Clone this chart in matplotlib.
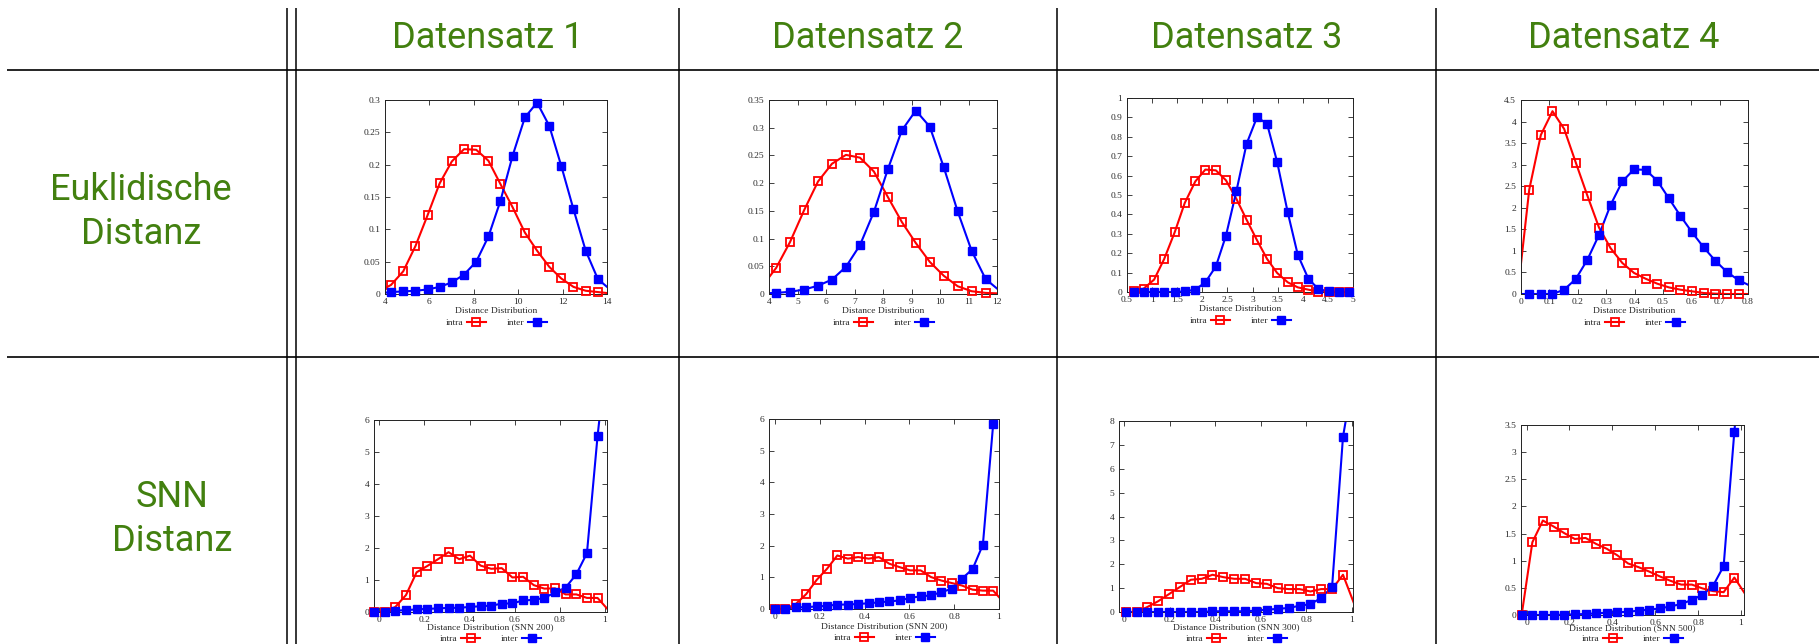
import numpy as np
import matplotlib
matplotlib.use("Agg")
import matplotlib.pyplot as plt
from matplotlib import font_manager
from matplotlib.lines import Line2D
from matplotlib.ticker import MultipleLocator, FormatStrFormatter

W, H = 1819, 644

installed = {f.name for f in font_manager.fontManager.ttflist}
HEAD_FONT = "Roboto" if "Roboto" in installed else "DejaVu Sans"
PLOT_FONT = "Liberation Serif" if "Liberation Serif" in installed else "DejaVu Serif"
GREEN = "#42800f"
RED, BLUE = "#ff0000", "#0000ff"
INK = "#2a2a2a"

col_titles = ["Datensatz 1", "Datensatz 2", "Datensatz 3", "Datensatz 4"]
row_titles = [["Euklidische", "Distanz"], ["SNN", "Distanz"]]
x_labels = ["Distance Distribution"] * 4 + [
    "Distance Distribution (SNN 200)", "Distance Distribution (SNN 200)",
    "Distance Distribution (SNN 300)", "Distance Distribution (SNN 500)"]

# --- Euklidische Distanz -------------------------------------------------
d1_eu_x = [3.72, 4.27, 4.82, 5.37, 5.92, 6.46, 7.01, 7.56, 8.11, 8.66,
           9.20, 9.75, 10.30, 10.85, 11.40, 11.94, 12.49, 13.04, 13.59, 14.14]
d1_eu_intra = [0.004, 0.014, 0.035, 0.074, 0.122, 0.171, 0.205, 0.224, 0.223, 0.206,
               0.170, 0.134, 0.095, 0.067, 0.042, 0.024, 0.011, 0.005, 0.003, 0.001]
d1_eu_inter = [0.001, 0.003, 0.004, 0.005, 0.007, 0.011, 0.018, 0.030, 0.050, 0.089,
               0.144, 0.214, 0.273, 0.296, 0.260, 0.198, 0.131, 0.067, 0.023, 0.007]

d2_eu_x = [3.76, 4.25, 4.74, 5.23, 5.72, 6.21, 6.70, 7.19, 7.68, 8.17,
           8.66, 9.15, 9.64, 10.13, 10.62, 11.11, 11.60, 12.09]
d2_eu_intra = [0.014, 0.047, 0.094, 0.151, 0.203, 0.235, 0.251, 0.246, 0.221, 0.175,
               0.130, 0.092, 0.058, 0.033, 0.014, 0.005, 0.002, 0.001]
d2_eu_inter = [0.001, 0.002, 0.004, 0.008, 0.015, 0.026, 0.049, 0.088, 0.148, 0.225,
               0.295, 0.331, 0.302, 0.229, 0.149, 0.078, 0.027, 0.006]

d3_eu_x = [0.63, 0.83, 1.04, 1.24, 1.45, 1.65, 1.86, 2.06, 2.27, 2.47, 2.68,
           2.88, 3.09, 3.29, 3.49, 3.70, 3.90, 4.11, 4.31, 4.52, 4.72, 4.93]
d3_eu_intra = [0.007, 0.017, 0.064, 0.170, 0.308, 0.459, 0.570, 0.631, 0.627, 0.576, 0.479,
               0.373, 0.266, 0.170, 0.098, 0.050, 0.024, 0.012, 0.002, 0.0, 0.0, 0.0]
d3_eu_inter = [0.0, 0.0, 0.0, 0.0, 0.0, 0.003, 0.012, 0.050, 0.132, 0.290, 0.522,
               0.763, 0.902, 0.866, 0.670, 0.411, 0.192, 0.069, 0.015, 0.003, 0.0, 0.0]

d4_eu_x = [-0.012, 0.029, 0.070, 0.111, 0.152, 0.193, 0.234, 0.275, 0.316, 0.357, 0.398,
           0.439, 0.480, 0.521, 0.562, 0.603, 0.644, 0.685, 0.726, 0.767, 0.808]
d4_eu_intra = [0.0, 2.42, 3.69, 4.24, 3.83, 3.05, 2.28, 1.54, 1.06, 0.72, 0.49,
               0.355, 0.24, 0.154, 0.10, 0.062, 0.023, 0.008, 0.0, 0.0, 0.0]
d4_eu_inter = [0.0, 0.0, 0.0, 0.0, 0.10, 0.347, 0.795, 1.373, 2.07, 2.61, 2.89,
               2.88, 2.63, 2.22, 1.81, 1.43, 1.08, 0.77, 0.51, 0.32, 0.19]

# --- SNN Distanz ---------------------------------------------------------
d1_snn_x = [-0.024, 0.024, 0.071, 0.118, 0.165, 0.213, 0.260, 0.307, 0.354, 0.402, 0.449, 0.496,
            0.543, 0.590, 0.638, 0.685, 0.732, 0.779, 0.826, 0.874, 0.921, 0.968, 1.015]
d1_snn_intra = [0.0, 0.0, 0.16, 0.53, 1.24, 1.44, 1.65, 1.87, 1.65, 1.76, 1.45, 1.35,
                1.37, 1.08, 1.10, 0.84, 0.73, 0.74, 0.55, 0.55, 0.44, 0.44, 0.07]
d1_snn_inter = [0.0, 0.0, 0.04, 0.06, 0.08, 0.10, 0.11, 0.13, 0.13, 0.16, 0.18, 0.20,
                0.26, 0.27, 0.36, 0.38, 0.44, 0.61, 0.76, 1.18, 1.84, 5.49, 8.5]

d2_snn_x = [0.000, 0.046, 0.093, 0.139, 0.186, 0.232, 0.278, 0.325, 0.371, 0.418, 0.464, 0.510,
            0.557, 0.603, 0.650, 0.696, 0.742, 0.789, 0.835, 0.882, 0.928, 0.974, 1.021]
d2_snn_intra = [0.0, 0.0, 0.16, 0.47, 0.92, 1.27, 1.69, 1.59, 1.64, 1.59, 1.64, 1.43,
                1.32, 1.22, 1.22, 1.01, 0.90, 0.82, 0.74, 0.61, 0.58, 0.58, 0.21]
d2_snn_inter = [0.0, 0.0, 0.05, 0.06, 0.08, 0.10, 0.14, 0.14, 0.16, 0.18, 0.21, 0.24,
                0.27, 0.35, 0.40, 0.43, 0.53, 0.64, 0.96, 1.26, 2.03, 5.84, 9.0]

d3_snn_x = [0.005, 0.053, 0.101, 0.148, 0.196, 0.244, 0.292, 0.340, 0.387, 0.435, 0.483,
            0.531, 0.579, 0.626, 0.674, 0.722, 0.770, 0.818, 0.865, 0.913, 0.961, 1.009]
d3_snn_intra = [0.0, 0.0, 0.21, 0.45, 0.75, 1.05, 1.35, 1.39, 1.56, 1.46, 1.39,
                1.39, 1.21, 1.18, 1.00, 0.96, 0.96, 0.86, 0.96, 0.96, 1.56, 0.37]
d3_snn_inter = [0.0, 0.0, 0.0, 0.0, 0.0, 0.0, 0.0, 0.0, 0.03, 0.03, 0.03,
                0.03, 0.06, 0.10, 0.13, 0.17, 0.26, 0.33, 0.59, 1.05, 7.34, 10.0]

d4_snn_x = [-0.023, 0.027, 0.076, 0.126, 0.175, 0.225, 0.275, 0.324, 0.374, 0.423, 0.473,
            0.523, 0.572, 0.622, 0.671, 0.721, 0.771, 0.820, 0.870, 0.919, 0.969, 1.019]
d4_snn_intra = [0.0, 1.34, 1.74, 1.63, 1.51, 1.40, 1.42, 1.31, 1.22, 1.10, 0.95,
                0.88, 0.80, 0.71, 0.63, 0.56, 0.56, 0.49, 0.44, 0.42, 0.69, 0.39]
d4_snn_inter = [0.0, 0.0, 0.0, 0.0, 0.006, 0.012, 0.018, 0.030, 0.043, 0.050, 0.060,
                0.080, 0.10, 0.12, 0.16, 0.20, 0.28, 0.37, 0.54, 0.90, 3.38, 5.5]

series = [
    (d1_eu_x, d1_eu_intra, d1_eu_inter), (d2_eu_x, d2_eu_intra, d2_eu_inter),
    (d3_eu_x, d3_eu_intra, d3_eu_inter), (d4_eu_x, d4_eu_intra, d4_eu_inter),
    (d1_snn_x, d1_snn_intra, d1_snn_inter), (d2_snn_x, d2_snn_intra, d2_snn_inter),
    (d3_snn_x, d3_snn_intra, d3_snn_inter), (d4_snn_x, d4_snn_intra, d4_snn_inter),
]

x_limits = [(4, 14), (4, 12), (0.5, 5), (0, 0.8),
            (-0.024, 1.01), (-0.027, 1.0), (-0.024, 1.005), (-0.026, 1.014)]
y_limits = [(0, 0.3), (0, 0.35), (0, 1), (0, 4.5), (0, 6), (0, 6), (0, 8), (0, 3.5)]
x_steps = [2, 1, 0.5, 0.1, 0.2, 0.2, 0.2, 0.2]
y_steps = [0.05, 0.05, 0.1, 0.5, 1, 1, 1, 0.5]

# axes frames in pixels: left, top, right, bottom
boxes = [(385, 100, 607, 294), (769, 100, 997, 294), (1127, 98, 1353, 292), (1521, 100, 1748, 294),
         (374, 420, 607, 612), (769, 419, 999, 609), (1119, 421, 1353, 612), (1521, 425, 1744, 615)]

fig = plt.figure(figsize=(W / 100, H / 100), dpi=100)

# table grid and headings
bg = fig.add_axes([0, 0, 1, 1], zorder=-1)
bg.set_xlim(0, W)
bg.set_ylim(H, 0)
bg.axis("off")
for y in (69.5, 357):
    bg.plot([7, W], [y, y], color="black", lw=1.2, solid_capstyle="butt")
for x in (287, 296, 679, 1057, 1436):
    bg.plot([x, x], [8, H], color="black", lw=1.1, solid_capstyle="butt")

head_kw = dict(family=HEAD_FONT, fontsize=26, fontweight="normal", color=GREEN,
               ha="center", va="baseline")
for cx, title in zip((487.5, 868, 1246.5, 1624), col_titles):
    bg.text(cx, 48, title, **head_kw)
for (cx, base), lines in zip(((141, 200), (172.5, 507)), row_titles):
    for i, word in enumerate(lines):
        bg.text(cx, base + 44 * i, word, **head_kw)

fs = 6.8
intra_style = dict(color=RED, marker="s", mfc="none", mec=RED, ms=6, mew=1.3)
inter_style = dict(color=BLUE, marker="s", mfc=BLUE, mec=BLUE, ms=6, mew=1.0)

for i, ((xs, intra, inter), box) in enumerate(zip(series, boxes)):
    l, t, r, b = box
    ax = fig.add_axes([l / W, 1 - b / H, (r - l) / W, (b - t) / H])
    xs = np.array(xs)
    xlo, xhi = x_limits[i]
    ylo, yhi = y_limits[i]
    for ys, style in ((intra, intra_style), (inter, inter_style)):
        ys = np.array(ys)
        ax.plot(xs, ys, color=style["color"], lw=1.5)
        # gnuplot draws every in-range point whole, even on the frame
        keep = (xs >= xlo - 1e-3) & (xs <= xhi + 1e-3) & (ys <= yhi + 1e-3)
        ax.plot(xs[keep], ys[keep], ls="none", clip_on=False, zorder=3,
                **{k: v for k, v in style.items() if k != "color"})
    ax.set_xlim(xlo, xhi)
    ax.set_ylim(ylo, yhi)
    ax.xaxis.set_major_locator(MultipleLocator(x_steps[i]))
    ax.yaxis.set_major_locator(MultipleLocator(y_steps[i]))
    ax.xaxis.set_major_formatter(FormatStrFormatter("%g"))
    ax.yaxis.set_major_formatter(FormatStrFormatter("%g"))
    ax.tick_params(direction="in", top=True, right=True, length=3.5, width=0.6,
                   labelsize=fs, labelcolor=INK, color="#222222")
    ax.tick_params(axis="x", pad=3)
    ax.tick_params(axis="y", pad=3.5)
    for lab in ax.get_xticklabels() + ax.get_yticklabels():
        lab.set_family(PLOT_FONT)
    for sp in ax.spines.values():
        sp.set_color("#222222")
        sp.set_linewidth(0.7)

    # legend centre in pixels, kept inside the figure; squeeze the x label up if needed
    leg_y = min(b + 29, H - 5)
    squeeze = (b + 29) - leg_y
    ax.set_xlabel(x_labels[i], family=PLOT_FONT, fontsize=fs, color=INK,
                  labelpad=0.5 - 0.6 * squeeze)
    handles = [Line2D([], [], lw=1.5, **intra_style), Line2D([], [], lw=1.5, **inter_style)]
    ax.legend(handles, ["intra", "inter"], loc="center", ncol=2, frameon=False,
              markerfirst=False, handlelength=2.0, handletextpad=0.4, columnspacing=2.2,
              prop=dict(family=PLOT_FONT, size=fs),
              bbox_to_anchor=(0.5, -(leg_y - b) / (b - t)), borderaxespad=0, borderpad=0)
    for txt in ax.get_legend().get_texts():
        txt.set_color(INK)

fig.savefig("out.png", dpi=100)
